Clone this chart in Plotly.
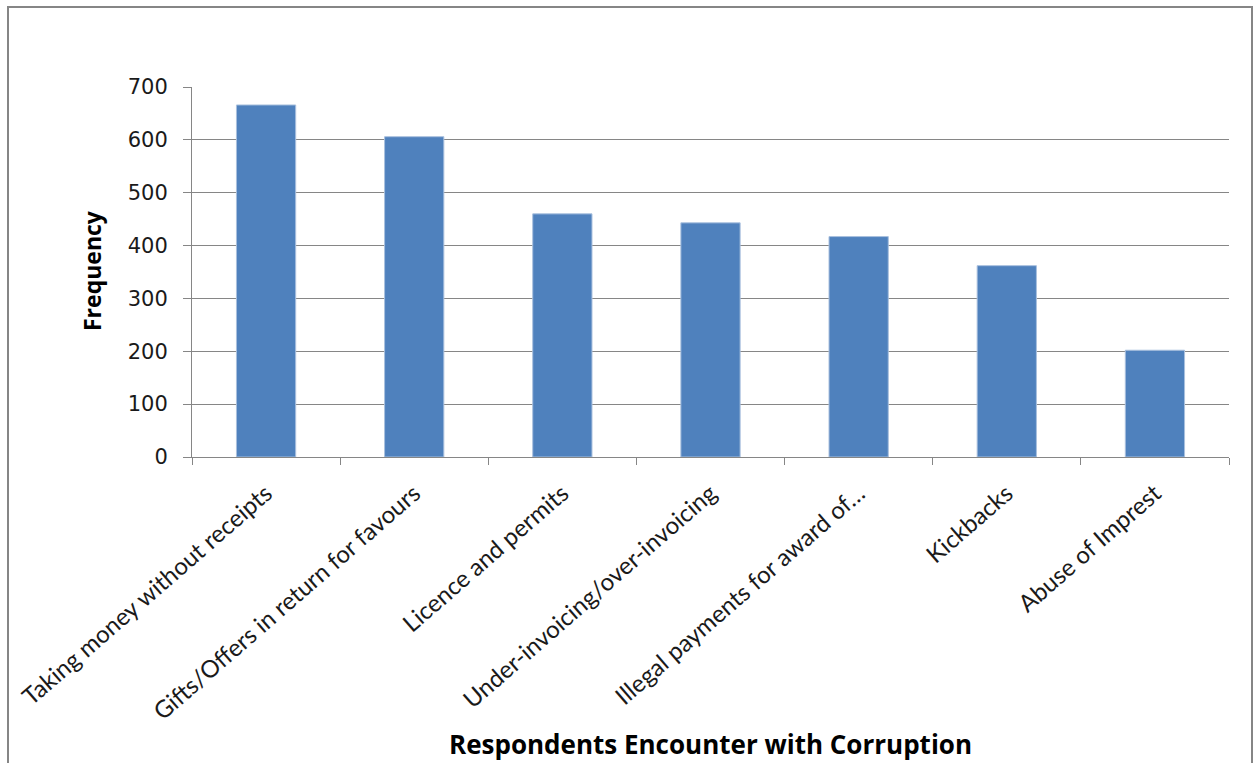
import plotly.graph_objects as go

categories = [
    "Taking money without receipts",
    "Gifts/Offers in return for favours",
    "Licence and permits",
    "Under-invoicing/over-invoicing",
    "Illegal payments for award of…",
    "Kickbacks",
    "Abuse of Imprest",
]
frequency = [666, 606, 460, 443, 417, 362, 202]
y_ticks = [0, 100, 200, 300, 400, 500, 600, 700]

W, H = 1259, 763
ML, MR, MT, MB = 192, 30, 87, 306
pw, ph = W - ML - MR, H - MT - MB


def px_x(x):
    return (x - ML) / pw


def px_y(y):
    return (H - MB - y) / ph


fig = go.Figure(
    go.Bar(
        x=categories,
        y=frequency,
        marker=dict(color="#4f81bd", line=dict(color="#a9c0de", width=1)),
        width=0.4,
    )
)

grey = "#868686"

fig.update_layout(
    width=W,
    height=H,
    margin=dict(l=ML, r=MR, t=MT, b=MB),
    paper_bgcolor="white",
    plot_bgcolor="white",
    showlegend=False,
    font=dict(family="DejaVu Sans", color="#1a1a1a"),
    xaxis=dict(
        type="category",
        tickangle=-41,
        tickson="boundaries",
        ticks="outside",
        ticklen=7,
        tickcolor=grey,
        showline=True,
        linecolor=grey,
        linewidth=1,
        showgrid=False,
        tickfont=dict(family="Lato", size=24, color="#1a1a1a"),
        ticklabelstandoff=12,
        automargin=False,
    ),
    yaxis=dict(
        range=[0, 700],
        tickvals=y_ticks,
        ticks="outside",
        ticklen=8,
        tickcolor=grey,
        showline=True,
        linecolor=grey,
        linewidth=1,
        showgrid=True,
        gridcolor=grey,
        gridwidth=1,
        zeroline=False,
        tickfont=dict(family="DejaVu Sans", size=21, color="#1a1a1a"),
        ticklabelstandoff=11,
        automargin=False,
    ),
)

# axis titles
fig.add_annotation(
    text="<b>Respondents Encounter with Corruption</b>",
    xref="paper", yref="paper",
    x=px_x(710), y=px_y(744),
    xanchor="center", yanchor="middle",
    showarrow=False,
    font=dict(family="Open Sans", size=26, color="black"),
)
fig.add_annotation(
    text="<b>Frequency</b>",
    xref="paper", yref="paper",
    x=px_x(92), y=px_y(271),
    xanchor="center", yanchor="middle",
    textangle=-90,
    showarrow=False,
    font=dict(family="Open Sans", size=23, color="black"),
)

# chart area frame
fig.add_shape(
    type="rect",
    xref="paper", yref="paper",
    x0=px_x(8), x1=px_x(1252), y0=px_y(775), y1=px_y(7),
    line=dict(color=grey, width=2),
    fillcolor="rgba(0,0,0,0)",
    layer="below",
)

fig.write_html("out.html")
